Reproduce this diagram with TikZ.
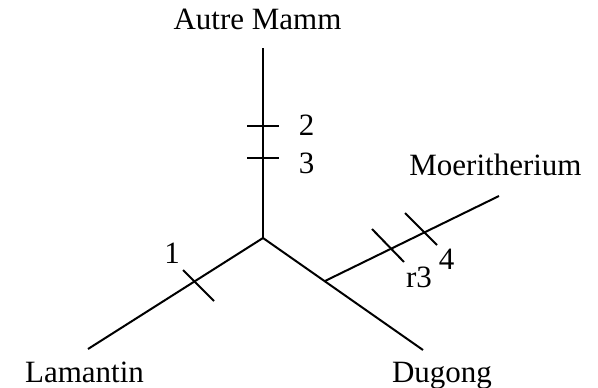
\documentclass[tikz,border=0pt]{standalone}
\usepackage{fontspec}
\setmainfont{Liberation Serif}
\begin{document}
\begin{tikzpicture}[x=1pt,y=-1pt,
  branch/.style={line width=2pt, line cap=butt},
  tick/.style={line width=2pt},
  lbl/.style={anchor=base, inner sep=0pt, font=\fontsize{31}{31}\selectfont}]
\useasboundingbox (0,0) rectangle (598,388);
% coordinates
\coordinate (c) at (263,238);
\coordinate (top) at (263,48);
\coordinate (lam) at (88,349);
\coordinate (dug) at (423,350);
\coordinate (j) at (325,281);
\coordinate (moe) at (499,196);
% branches
\draw[branch] (c) -- (top);
\draw[branch] (c) -- (lam);
\draw[branch] (c) -- (dug);
\draw[branch] (j) -- (moe);
% ticks
\coordinate (t2a) at (247,125.5); \coordinate (t2b) at (279,125.5);
\coordinate (t3a) at (247,158); \coordinate (t3b) at (279,158);
\coordinate (t1a) at (183,270); \coordinate (t1b) at (214,301);
\coordinate (tra) at (372,229); \coordinate (trb) at (404,262);
\coordinate (t4a) at (405,213); \coordinate (t4b) at (437,245);
\draw[tick] (t2a) -- (t2b);
\draw[tick] (t3a) -- (t3b);
\draw[tick] (t1a) -- (t1b);
\draw[tick] (tra) -- (trb);
\draw[tick] (t4a) -- (t4b);
% labels
\node[lbl] (nA) at (257.5,30) {Autre Mamm};
\node[lbl] (nL) at (84.5,382) {Lamantin};
\node[lbl] (nD) at (442,382) {Dugong};
\node[lbl] (nM) at (495.5,175) {Moeritherium};
\node[lbl] (l2) at (306.5,135) {2};
\node[lbl] (l3) at (306.5,173) {3};
\node[lbl] (l1) at (172,263) {1};
\node[lbl] (lr3) at (419,287) {r3};
\node[lbl] (l4) at (446.5,269) {4};
\end{tikzpicture}
\end{document}
